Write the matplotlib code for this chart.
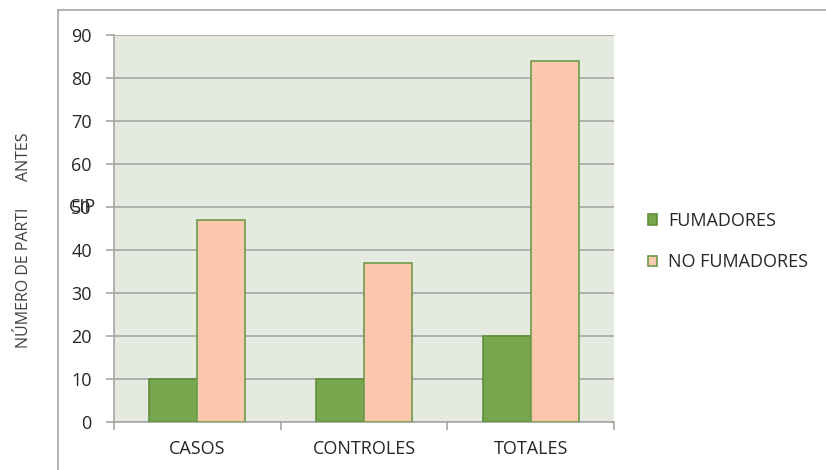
import matplotlib.pyplot as plt
import numpy as np

categorias = ['CASOS', 'CONTROLES', 'TOTALES']
fumadores = [10, 10, 20]
no_fumadores = [47, 37, 84]
series = ['FUMADORES', 'NO FUMADORES']

plt.rcParams['font.family'] = ['Open Sans', 'DejaVu Sans']

fig = plt.figure(figsize=(8.26, 4.70), dpi=100)
W, H = 826, 470
FS = 13

# outer chart frame (only left/top visible)
fig.add_artist(plt.Line2D([58 / W, 58 / W], [0, 1 - 10 / H], color='#A6A6A6', lw=1.2))
fig.add_artist(plt.Line2D([58 / W, 1], [1 - 10 / H, 1 - 10 / H], color='#A6A6A6', lw=1.2))

ax = fig.add_axes([114 / W, 1 - 422 / H, 500 / W, 387 / H])
ax.set_facecolor('#E4EAE0')

x = np.arange(len(categorias))
w = 0.288
ax.bar(x - w / 2, fumadores, w, color='#77A64E', edgecolor='#5F8F3C', lw=1.2,
       label=series[0], zorder=3)
ax.bar(x + w / 2, no_fumadores, w, color='#FBC8AD', edgecolor='#6E9B4A', lw=1.2,
       label=series[1], zorder=3)

ax.set_xlim(-0.5, 2.5)
ax.set_ylim(0, 90)
ax.set_yticks(range(0, 91, 10))
ax.yaxis.grid(True, color='#A6A6A6', lw=1.2, zorder=1)
ax.set_axisbelow(True)

ax.set_xticks(x)
ax.set_xticklabels(categorias, fontsize=FS, color='#262626')
ax.set_xticks([-0.5, 0.5, 1.5, 2.5], minor=True)
ax.tick_params(axis='x', which='major', length=0, pad=13)
ax.tick_params(axis='x', which='minor', length=6, color='#A6A6A6', width=1.2)
ax.tick_params(axis='y', length=6, color='#A6A6A6', width=1.2, labelsize=FS,
               labelcolor='#262626', pad=10)

for s in ['top', 'right']:
    ax.spines[s].set_visible(False)
ax.spines['left'].set_color('#A6A6A6')
ax.spines['bottom'].set_color('#A6A6A6')
ax.spines['left'].set_linewidth(1.2)
ax.spines['bottom'].set_linewidth(1.2)

# stray glyphs overlapping the 50 tick label
fig.text(96 / W, 1 - 207 / H, 'CIP', fontsize=FS, color='#262626', ha='right', va='center')

# broken y label
fig.text(24 / W, 1 - 278 / H, 'NÚMERO DE PARTI', rotation=90, fontsize=11.5,
         color='#404040', ha='center', va='center')
fig.text(24 / W, 1 - 157 / H, 'ANTES', rotation=90, fontsize=11.5,
         color='#404040', ha='center', va='center')

leg = fig.legend(loc='upper left', bbox_to_anchor=(648 / W, 1 - 212 / H), frameon=False,
                 fontsize=FS, handlelength=0.5, handleheight=0.5, handletextpad=0.6,
                 labelspacing=1.3, borderaxespad=0, borderpad=0)
for t in leg.get_texts():
    t.set_color('#262626')

fig.savefig('out.png', dpi=100)
